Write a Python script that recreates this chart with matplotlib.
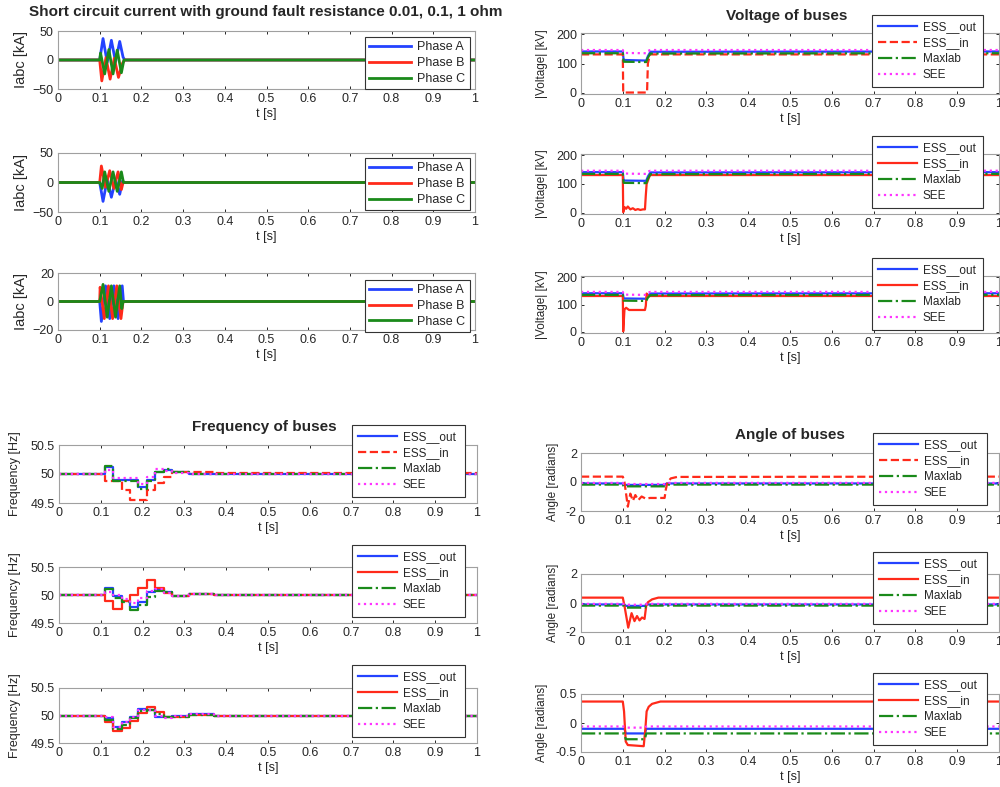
import matplotlib
matplotlib.use('Agg')
import matplotlib.pyplot as plt

plt.rcParams['font.family'] = ['Liberation Sans', 'DejaVu Sans']

# ---------------- data ----------------
phase_labels = ['Phase A', 'Phase B', 'Phase C']
bus_labels = ['ESS__out', 'ESS__in', 'Maxlab', 'SEE']
xticks = [0, 0.1, 0.2, 0.3, 0.4, 0.5, 0.6, 0.7, 0.8, 0.9, 1.0]
xtick_labels = ['0', '0.1', '0.2', '0.3', '0.4', '0.5', '0.6', '0.7', '0.8', '0.9', '1']

# short circuit current, kA (extrema of the traces), R = 0.01 / 0.1 / 1 ohm
c1a_t = [0, 0.1, 0.108, 0.118, 0.128, 0.138, 0.148, 0.156, 0.16, 1]
c1a_v = [0, 0, 37, -4, 34, -3, 32, 5, 0, 0]
c1b_t = [0, 0.1, 0.105, 0.115, 0.125, 0.135, 0.145, 0.155, 0.16, 1]
c1b_v = [0, 0, -36, 4, -33, 3, -30, -5, 0, 0]
c1c_t = [0, 0.1, 0.102, 0.112, 0.122, 0.132, 0.142, 0.152, 0.158, 1]
c1c_v = [0, 0, 12, -24, 18, -24, 17, -22, 0, 0]

c2a_t = [0, 0.1, 0.108, 0.118, 0.128, 0.138, 0.148, 0.155, 0.158, 1]
c2a_v = [0, 0, -32, 5, -25, 5, -20, 3, 0, 0]
c2b_t = [0, 0.1, 0.104, 0.114, 0.124, 0.134, 0.144, 0.152, 0.156, 1]
c2b_v = [0, 0, 28, -8, 20, -10, 18, -12, 0, 0]
c2c_t = [0, 0.1, 0.106, 0.112, 0.122, 0.132, 0.142, 0.152, 0.157, 1]
c2c_v = [0, 0, -10, 18, -15, 18, -15, 18, 0, 0]

c3a_t = [0, 0.1, 0.104, 0.114, 0.124, 0.134, 0.144, 0.154, 0.157, 1]
c3a_v = [0, 0, -14, 11, -12, 11, -12, 11, 0, 0]
c3b_t = [0, 0.1, 0.101, 0.111, 0.121, 0.131, 0.141, 0.151, 0.156, 1]
c3b_v = [0, 0, 10, -12, 11, -12, 11, -12, 0, 0]
c3c_t = [0, 0.1, 0.108, 0.118, 0.128, 0.138, 0.148, 0.153, 0.156, 1]
c3c_v = [0, 0, 12, -11, 11, -11, 11, -5, 0, 0]

# bus voltage, kV
v_dip_t = [0, 0.1, 0.102, 0.156, 0.16, 0.166, 1]
v1_out = [141, 141, 112, 110, 125, 140, 141]
v1_max = [135, 135, 106, 105, 120, 134, 135]
v1_see = [146, 146, 136, 135, 143, 146, 146]
v1_in_t = [0, 0.1, 0.101, 0.158, 0.16, 0.165, 1]
v1_in = [131, 131, 1, 1, 100, 131, 131]

v2_out = [141, 141, 112, 111, 126, 140, 141]
v2_max = [135, 135, 104, 103, 118, 134, 135]
v2_see = [146, 146, 136, 135, 143, 146, 146]
v2_in_t = [0, 0.1, 0.101, 0.104, 0.108, 0.112, 0.118, 0.124, 0.13, 0.136,
           0.142, 0.148, 0.153, 0.155, 0.157, 0.16, 0.165, 1]
v2_in = [131, 131, 2, 20, 14, 22, 12, 16, 10, 13, 10, 12, 12, 60, 100, 112, 131, 131]

v3_out = [141, 141, 122, 121, 132, 140, 141]
v3_max = [135, 135, 114, 113, 125, 134, 135]
v3_see = [146, 146, 136, 135, 143, 146, 146]
v3_in_t = [0, 0.1, 0.101, 0.104, 0.108, 0.115, 0.153, 0.155, 0.157, 0.16, 1]
v3_in = [131, 131, 2, 82, 88, 80, 80, 95, 140, 131, 131]

# bus frequency, Hz (step values)
f_t = [0, 0.11, 0.13, 0.15, 0.17, 0.19, 0.21, 0.23, 0.25, 0.27, 0.31, 0.37, 1]
f1_out = [50, 50.12, 49.9, 49.9, 49.9, 49.77, 49.9, 50.03, 50.07, 50.03, 50.0, 50.0, 50.0]
f1_in = [50, 49.88, 49.88, 49.72, 49.55, 49.55, 49.72, 49.85, 49.95, 50.03, 50.04, 50.01, 50.0]
f1_max = [50, 50.13, 49.88, 49.88, 49.88, 49.75, 49.88, 50.04, 50.08, 50.03, 50.0, 50.0, 50.0]
f1_see = [50, 50.07, 49.93, 49.93, 49.93, 49.83, 49.95, 50.08, 50.05, 50.01, 50.0, 50.0, 50.0]

f2_out = [50, 50.12, 49.98, 49.9, 49.78, 49.88, 50.05, 50.1, 50.05, 49.99, 50.02, 50.0, 50.0]
f2_in = [50, 49.9, 49.75, 49.9, 50.0, 50.13, 50.27, 50.13, 50.03, 49.99, 50.02, 50.0, 50.0]
f2_max = [50, 50.1, 49.95, 49.87, 49.73, 49.82, 49.97, 50.08, 50.06, 49.99, 50.02, 50.0, 50.0]
f2_see = [50, 50.05, 50.0, 49.92, 49.85, 49.95, 50.08, 50.1, 50.03, 49.99, 50.02, 50.0, 50.0]

f3_out = [50, 49.95, 49.8, 49.88, 49.98, 50.12, 50.1, 49.98, 49.97, 49.99, 50.02, 50.0, 50.0]
f3_in = [50, 49.88, 49.72, 49.78, 49.9, 50.05, 50.15, 50.06, 49.97, 49.98, 50.01, 50.0, 50.0]
f3_max = [50, 49.92, 49.75, 49.83, 49.95, 50.08, 50.1, 50.02, 49.97, 49.98, 50.01, 50.0, 50.0]
f3_see = [50, 49.97, 49.8, 49.88, 49.98, 50.1, 50.1, 50.0, 49.96, 49.99, 50.02, 50.0, 50.0]

# bus angle, radians
a1_dip_t = [0, 0.1, 0.102, 0.2, 0.205, 1]
a1_out = [-0.1, -0.1, -0.2, -0.2, -0.1, -0.1]
a1_max = [-0.18, -0.18, -0.3, -0.3, -0.18, -0.18]
a1_see = [-0.06, -0.06, -0.14, -0.14, -0.06, -0.06]
a1_in_t = [0, 0.1, 0.104, 0.112, 0.118, 0.124, 0.13, 0.137, 0.145, 0.155,
           0.165, 0.2, 0.203, 0.207, 0.215, 0.23, 1]
a1_in = [0.37, 0.37, 0.0, -1.7, -0.8, -1.3, -0.9, -1.25, -1.0, -1.15,
         -1.1, -1.1, -0.5, 0.0, 0.25, 0.35, 0.37]

a_dip_t = [0, 0.104, 0.107, 0.153, 0.156, 1]
a2_out = [-0.1, -0.1, -0.2, -0.2, -0.1, -0.1]
a2_max = [-0.18, -0.18, -0.32, -0.32, -0.18, -0.18]
a2_see = [-0.06, -0.06, -0.12, -0.12, -0.06, -0.06]
a2_in_t = [0, 0.1, 0.104, 0.113, 0.121, 0.128, 0.134, 0.14, 0.146, 0.152,
           0.156, 0.16, 0.17, 0.185, 1]
a2_in = [0.37, 0.37, -0.2, -1.7, -0.7, -1.25, -0.9, -1.2, -1.0, -1.1,
         -0.2, 0.05, 0.25, 0.37, 0.37]

a3_out = [-0.1, -0.1, -0.18, -0.18, -0.1, -0.1]
a3_max = [-0.18, -0.18, -0.28, -0.28, -0.18, -0.18]
a3_see = [-0.06, -0.06, -0.08, -0.08, -0.06, -0.06]
a3_in_t = [0, 0.1, 0.103, 0.107, 0.112, 0.15, 0.154, 0.157, 0.162, 0.17, 0.19, 1]
a3_in = [0.37, 0.37, 0.2, -0.32, -0.38, -0.4, -0.1, 0.2, 0.28, 0.33, 0.37, 0.37]

# ---------------- styling ----------------
BLUE = '#2442ff'
RED = '#ff2a1a'
GREEN = '#1a8a1a'
MAGENTA = '#ff33ff'
TXT = '#262626'

W, H = 1000, 787
fig = plt.figure(figsize=(10, 7.87), dpi=100)


def add_axes(x0, x1, y0, y1):
    # pixel box -> figure fraction
    return fig.add_axes([x0 / W, 1 - y1 / H, (x1 - x0) / W, (y1 - y0) / H])


def style(ax, ylim, yticks, ylabel, yfs, ylab_x):
    ax.set_xlim(0, 1)
    ax.set_xticks(xticks)
    ax.set_xticklabels(xtick_labels)
    ax.set_ylim(ylim)
    ax.set_yticks(yticks)
    ax.tick_params(direction='in', length=2.5, width=0.7, top=True, right=True,
                   labelsize=9, colors=TXT, pad=3)
    for s in ax.spines.values():
        s.set_color('#a0a0a0')
        s.set_linewidth(0.8)
    ax.set_xlabel('t [s]', fontsize=9, color=TXT, labelpad=2)
    ax.set_ylabel(ylabel, fontsize=yfs, color=TXT)
    ax.yaxis.set_label_coords(ylab_x, 0.5)


def legend(ax, box, ncount, fs=8.5):
    x0, y0, x1, y1 = box
    leg = ax.legend(loc='upper left', bbox_to_anchor=(x0 / W, 1 - y0 / H, (x1 - x0) / W, 0),
                    bbox_transform=fig.transFigure, mode='expand', borderaxespad=0,
                    fontsize=fs, fancybox=False, framealpha=1, handlelength=3.3,
                    handletextpad=0.5, borderpad=0.5 if ncount == 4 else 0.35,
                    labelspacing=0.35 if ncount == 4 else 0.3)
    leg.get_frame().set_edgecolor('#333333')
    leg.get_frame().set_linewidth(0.8)
    for t in leg.get_texts():
        t.set_color(TXT)
    return leg


# ---- short circuit currents ----
cur_boxes = [(58, 475, 31, 89), (58, 475, 153, 212), (58, 475, 273, 330)]
cur_leg = [(365, 37, 470, 90), (365, 158, 470, 217), (365, 280, 470, 338)]
cur_data = [(c1a_t, c1a_v, c1b_t, c1b_v, c1c_t, c1c_v),
            (c2a_t, c2a_v, c2b_t, c2b_v, c2c_t, c2c_v),
            (c3a_t, c3a_v, c3b_t, c3b_v, c3c_t, c3c_v)]
cur_lims = [((-50, 50), [-50, 0, 50]), ((-50, 50), [-50, 0, 50]), ((-20, 20), [-20, 0, 20])]
for i in range(3):
    ax = add_axes(*cur_boxes[i])
    at, av, bt, bv, ct, cv = cur_data[i]
    ax.plot(at, av, color=BLUE, lw=2, label=phase_labels[0])
    ax.plot(bt, bv, color=RED, lw=2, label=phase_labels[1])
    ax.plot(ct, cv, color=GREEN, lw=2, label=phase_labels[2])
    style(ax, cur_lims[i][0], cur_lims[i][1], 'Iabc [kA]', 10.5, -0.072)
    legend(ax, cur_leg[i], 3, fs=9)

# ---- bus voltages ----
volt_boxes = [(581, 999, 33, 94), (581, 999, 154, 214), (581, 999, 276, 333)]
volt_leg = [(872, 15, 983, 93), (872, 136, 983, 213), (872, 258, 983, 335)]
volt_data = [(v1_out, v1_in_t, v1_in, v1_max, v1_see),
             (v2_out, v2_in_t, v2_in, v2_max, v2_see),
             (v3_out, v3_in_t, v3_in, v3_max, v3_see)]
for i in range(3):
    ax = add_axes(*volt_boxes[i])
    vout, vin_t, vin, vmax, vsee = volt_data[i]
    ax.plot(v_dip_t, vout, color=BLUE, lw=1.6, label=bus_labels[0])
    ax.plot(vin_t, vin, color=RED, lw=1.6, ls='--' if i == 0 else '-', label=bus_labels[1])
    ax.plot(v_dip_t, vmax, color=GREEN, lw=1.6, ls='-.', label=bus_labels[2])
    ax.plot(v_dip_t, vsee, color=MAGENTA, lw=1.6, ls=':', label=bus_labels[3])
    style(ax, (-4, 204), [0, 100, 200], '|Voltage| [kV]', 8.5, -0.078)
    legend(ax, volt_leg[i], 4)

# ---- bus frequencies ----
freq_boxes = [(59, 477, 445, 503), (59, 477, 567, 623), (59, 477, 688, 743)]
freq_leg = [(352, 425, 465, 505), (352, 545, 465, 623), (352, 665, 465, 743)]
freq_data = [(f1_out, f1_in, f1_max, f1_see),
             (f2_out, f2_in, f2_max, f2_see),
             (f3_out, f3_in, f3_max, f3_see)]
for i in range(3):
    ax = add_axes(*freq_boxes[i])
    fout, fin, fmax, fsee = freq_data[i]
    ax.step(f_t, fout, where='post', color=BLUE, lw=1.6, label=bus_labels[0])
    ax.step(f_t, fin, where='post', color=RED, lw=1.6, ls='--' if i == 0 else '-', label=bus_labels[1])
    ax.step(f_t, fmax, where='post', color=GREEN, lw=1.6, ls='-.', label=bus_labels[2])
    ax.step(f_t, fsee, where='post', color=MAGENTA, lw=1.6, ls=':', label=bus_labels[3])
    style(ax, (49.5, 50.5), [49.5, 50, 50.5], 'Frequency [Hz]', 9, -0.09)
    ax.set_yticklabels(['49.5', '50', '50.5'])
    legend(ax, freq_leg[i], 4)

# ---- bus angles ----
ang_boxes = [(581, 999, 453, 511), (581, 999, 574, 632), (581, 999, 694, 752)]
ang_leg = [(873, 433, 987, 508), (873, 552, 987, 629), (873, 673, 987, 750)]
ang_data = [(a1_dip_t, a1_out, a1_in_t, a1_in, a1_max, a1_see),
            (a_dip_t, a2_out, a2_in_t, a2_in, a2_max, a2_see),
            (a_dip_t, a3_out, a3_in_t, a3_in, a3_max, a3_see)]
ang_lims = [((-2, 2), [-2, 0, 2]), ((-2, 2), [-2, 0, 2]), ((-0.5, 0.5), [-0.5, 0, 0.5])]
for i in range(3):
    ax = add_axes(*ang_boxes[i])
    dt, aout, ain_t, ain, amax, asee = ang_data[i]
    ax.plot(dt, aout, color=BLUE, lw=1.6, label=bus_labels[0])
    ax.plot(ain_t, ain, color=RED, lw=1.6, ls='--' if i == 0 else '-', label=bus_labels[1])
    ax.plot(dt, amax, color=GREEN, lw=1.6, ls='-.', label=bus_labels[2])
    ax.plot(dt, asee, color=MAGENTA, lw=1.6, ls=':', label=bus_labels[3])
    style(ax, ang_lims[i][0], ang_lims[i][1], 'Angle [radians]', 8.5,
          -0.053 if i < 2 else -0.08)
    if i == 2:
        ax.set_yticklabels(['-0.5', '0', '0.5'])
    else:
        ax.set_yticklabels(['-2', '0', '2'])
    legend(ax, ang_leg[i], 4)

# ---- titles ----
fig.text(266 / W, 1 - 12 / H, 'Short circuit current with ground fault resistance 0.01, 0.1, 1 ohm',
         ha='center', va='center', fontsize=11, fontweight='bold', color=TXT)
fig.text(787 / W, 1 - 16 / H, 'Voltage of buses', ha='center', va='center',
         fontsize=11, fontweight='bold', color=TXT)
fig.text(264 / W, 1 - 427 / H, 'Frequency of buses', ha='center', va='center',
         fontsize=11, fontweight='bold', color=TXT)
fig.text(790 / W, 1 - 435 / H, 'Angle of buses', ha='center', va='center',
         fontsize=11, fontweight='bold', color=TXT)

fig.savefig('out.png', dpi=100)
